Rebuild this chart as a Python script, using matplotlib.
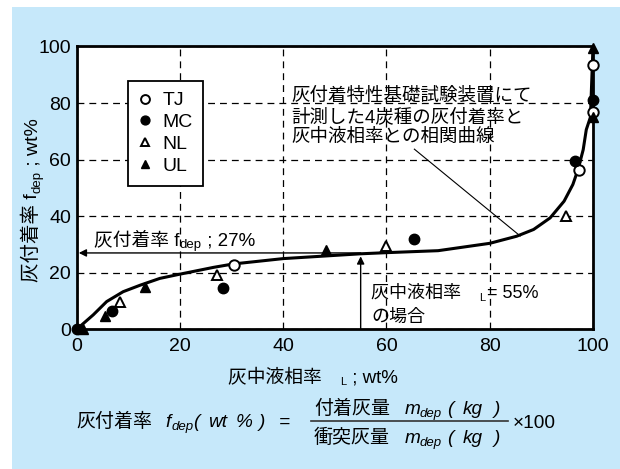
import matplotlib
matplotlib.use("Agg")
import matplotlib.pyplot as plt
from matplotlib.lines import Line2D
from matplotlib.patches import Rectangle

plt.rcParams["font.family"] = ["Liberation Sans", "Noto Sans CJK JP"]

# measured points per coal type (liquid phase ratio, deposition ratio)
tj_x = [30.4, 97.2, 100, 100]
tj_y = [22.9, 56.5, 77, 93.6]
mc_x = [0, 6.9, 28.3, 65.3, 96.5, 100]
mc_y = [0, 6.5, 14.5, 31.8, 59.4, 81]
nl_x = [8.4, 27.2, 60, 94.8]
nl_y = [9.5, 19.2, 29.5, 40]
ul_x = [1.2, 5.5, 13.3, 48.2, 100, 100]
ul_y = [0, 4.8, 14.8, 28.0, 75, 99.5]

# correlation curve
curve_x = [0, 3.2, 5.8, 9, 12.3, 16.1, 20, 26.5, 30.3, 40, 55, 60, 70, 80,
           85.2, 88.5, 91.7, 94.4, 96.1, 97.1, 98.1, 98.7, 99.5, 100]
curve_y = [0, 5.1, 9.8, 13.3, 15.6, 18, 19.5, 21.9, 23.1, 25, 26.7, 27.1, 27.8, 30.4,
           32.9, 35.3, 39.4, 45.3, 51.2, 56.5, 63.5, 70.6, 75, 100]

ticks = [0, 20, 40, 60, 80, 100]
case_phi = 55
case_fdep = 27

W, H = 620, 469
fig = plt.figure(figsize=(W / 100, H / 100), dpi=100)
fig.patch.set_facecolor("white")
renderer = fig.canvas.get_renderer()


def px(x, y):
    return x / W, 1 - y / H


def run_text(x, y, parts, vertical=False):
    """Lay out text pieces one after another, starting at pixel (x, y) on the baseline.

    Each part is (text, size, style, baseline shift, extra gap after)."""
    for s, size, style, shift, gap in parts:
        if vertical:
            t = fig.text(*px(x + shift, y), s, fontsize=size, style=style, rotation=90,
                         rotation_mode="anchor", ha="left", va="baseline")
            y -= t.get_window_extent(renderer).height + gap
        else:
            t = fig.text(*px(x, y + shift), s, fontsize=size, style=style,
                         ha="left", va="baseline")
            x += t.get_window_extent(renderer).width + gap


bg = Rectangle(px(12, H), (W - 12) / W, (H - 7) / H, transform=fig.transFigure,
               facecolor="#c6e8fa", edgecolor="none", zorder=-10)
fig.patches.append(bg)

ax = fig.add_axes([76.7 / W, 1 - 329.3 / H, (593 - 76.7) / W, (329.3 - 46.5) / H])
ax.set_zorder(2)
ax.set_facecolor("white")
ax.set_xlim(0, 100)
ax.set_ylim(0, 100)
ax.set_xticks(ticks)
ax.set_yticks(ticks)
ax.tick_params(length=0, labelsize=14)
ax.tick_params(axis="x", pad=6)
ax.tick_params(axis="y", pad=4)
for s in ax.spines.values():
    s.set_linewidth(2)
ax.grid(True, color="black", linestyle=(0, (5.5, 4)), linewidth=0.9)
ax.set_axisbelow(True)

ax.plot(curve_x, curve_y, color="black", lw=2.2, zorder=3)

mk = dict(linestyle="none", clip_on=False, zorder=5, markeredgecolor="black")
h_tj, = ax.plot(tj_x, tj_y, "o", ms=7.5, mfc="white", mew=1.4, label="TJ", **mk)
h_mc, = ax.plot(mc_x, mc_y, "o", ms=7.5, mfc="black", label="MC", **mk)
h_nl, = ax.plot(nl_x, nl_y, "^", ms=6.5, mfc="white", mew=1.4, label="NL", **mk)
h_ul, = ax.plot(ul_x, ul_y, "^", ms=6.5, mfc="black", label="UL", **mk)

leg = ax.legend(handles=[h_tj, h_mc, h_nl, h_ul], loc="upper left",
                bbox_to_anchor=(0.1, 0.878), fontsize=14, frameon=True,
                fancybox=False, edgecolor="black", framealpha=1,
                handlelength=0.6, handletextpad=0.6, labelspacing=0.22,
                borderpad=0.55, borderaxespad=0, markerscale=0.85)
leg.get_frame().set_linewidth(1.3)

# the 55 % case arrows
arr = dict(arrowstyle="-|>", color="black", lw=1, mutation_scale=11, shrinkA=0, shrinkB=0)
ax.annotate("", xy=(0.4, case_fdep), xytext=(case_phi, case_fdep), arrowprops=arr, zorder=4)
ax.annotate("", xy=(case_phi, case_fdep - 1.2), xytext=(case_phi, 0), arrowprops=arr, zorder=4)

ax.plot([65.4, 85.9], [63.7, 33], color="black", lw=0.8, zorder=4)

# texts laid over the axes (pixel positions, baseline)
run_text(94, 245, [("灰付着率 f", 13.5, "normal", 0, 0), ("dep", 9.5, "normal", 3, 0),
                   (" ; 27%", 13.5, "normal", 0, 0)])
run_text(371, 298, [("灰中液相率　", 13, "normal", 0, 0), ("L", 8, "normal", 3, 2),
                    ("= 55%", 13, "normal", 0, 0)])
run_text(371, 322, [("の場合", 13, "normal", 0, 0)])

note = ["灰付着特性基礎試験装置にて", "計測した4炭種の灰付着率と", "灰中液相率との相関曲線"]
for yy, line in zip([101, 122, 142], note):
    run_text(291.7, yy, [(line, 13.3, "normal", 0, 0)])

# axis titles
run_text(37, 282, [("灰付着率 f", 14, "normal", 0, 0), ("dep", 9.5, "normal", 3, 0),
                   (" ; wt%", 14, "normal", 0, 0)], vertical=True)
run_text(228, 382, [("灰中液相率　", 13.5, "normal", 0, 0), ("L", 8, "normal", 3, 0),
                    (" ; wt%", 13.5, "normal", 0, 0)])

# deposition ratio definition
fs, fsub = 13.7, 9.5
base = 427
fig.text(*px(76, base), "灰付着率", fontsize=fs, va="baseline")
for x, s, size, dy in [(165, "f", fs, 0), (172, "dep", fsub, 3), (193, "(", fs, 0),
                       (208, "wt", fs, 0), (236, "%", fs, 0), (259, ")", fs, 0),
                       (279, "=", fs, 0)]:
    fig.text(*px(x, base + dy), s, fontsize=size, style="italic", va="baseline")

for yy, word in [(414, "付着灰量"), (443, "衝突灰量")]:
    fig.text(*px(314, yy), word, fontsize=fs, va="baseline")
    for x, s, size, dy in [(405, "m", fs, 0), (420, "dep", fsub, 3), (447, "(", fs, 0),
                           (463, "kg", fs, 0), (494, ")", fs, 0)]:
        fig.text(*px(x, yy + dy), s, fontsize=size, style="italic", va="baseline")

fig.lines.append(Line2D([311 / W, 508 / W], [1 - 420.5 / H] * 2, transform=fig.transFigure,
                        color="#333333", lw=1.2, zorder=3))
fig.text(*px(513, 428), "×100", fontsize=fs, va="baseline")

for t in fig.texts:
    t.set_zorder(6)

fig.savefig("out.png", dpi=100, facecolor=fig.get_facecolor())
